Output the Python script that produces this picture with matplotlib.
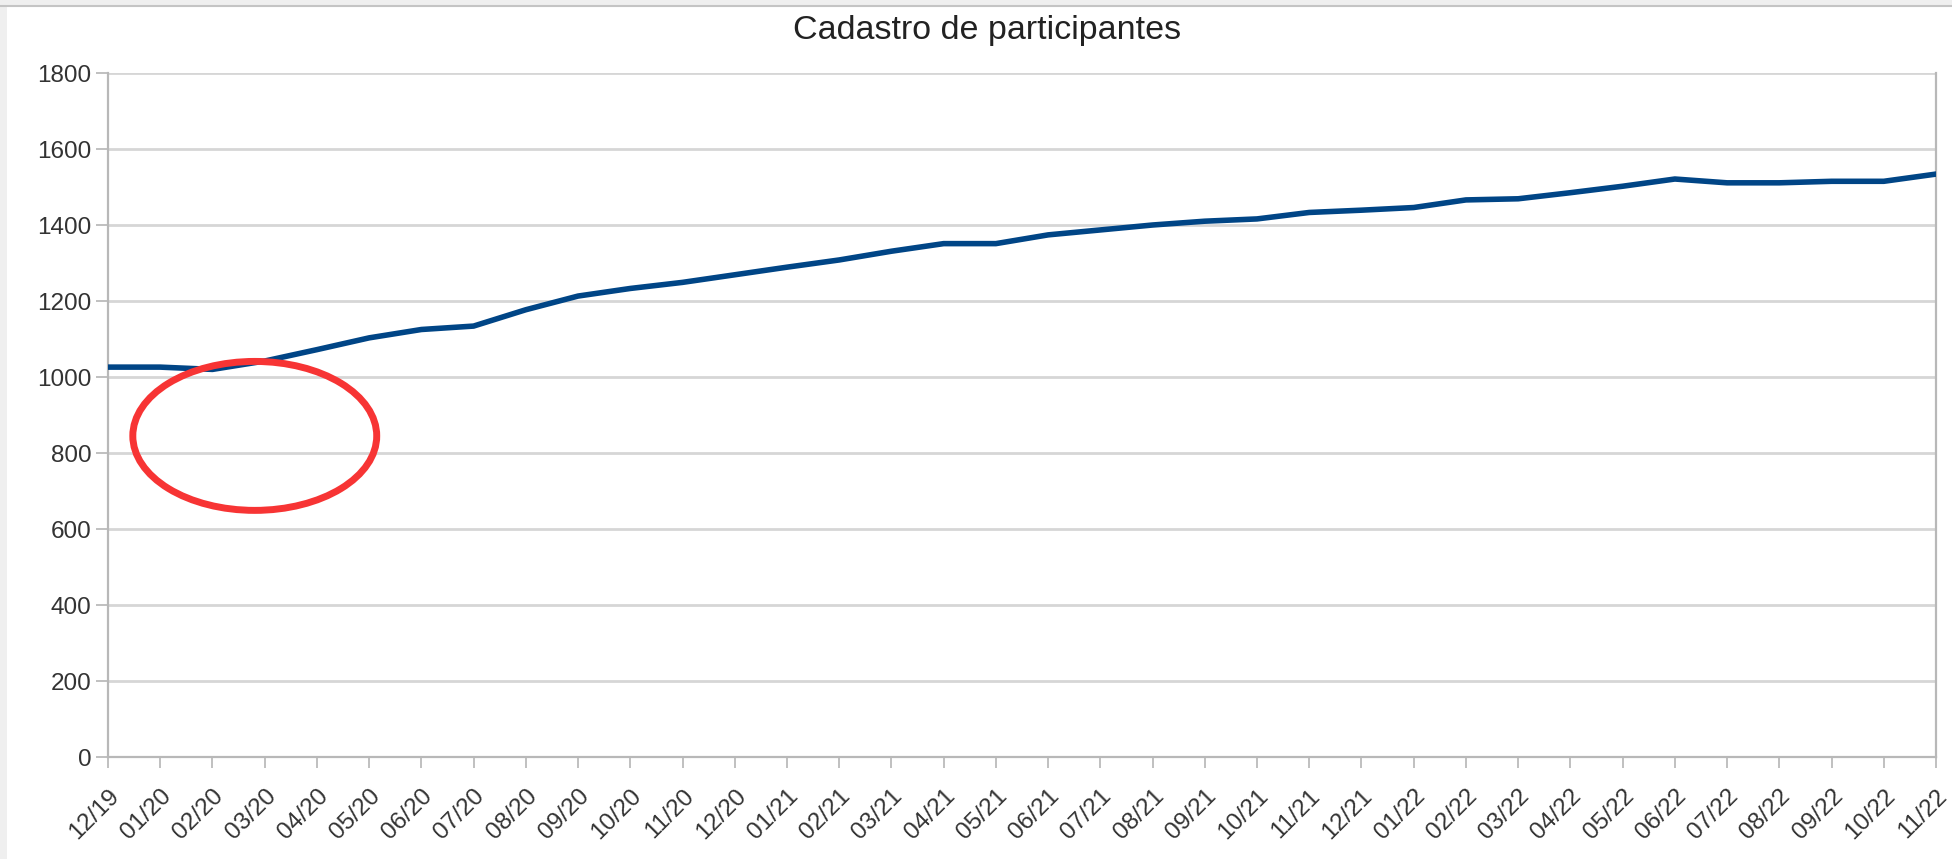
import matplotlib
matplotlib.use("Agg")
import matplotlib.pyplot as plt
from matplotlib.patches import Ellipse, Rectangle
from matplotlib.lines import Line2D

months = ["12/19", "01/20", "02/20", "03/20", "04/20", "05/20", "06/20", "07/20",
          "08/20", "09/20", "10/20", "11/20", "12/20", "01/21", "02/21", "03/21",
          "04/21", "05/21", "06/21", "07/21", "08/21", "09/21", "10/21", "11/21",
          "12/21", "01/22", "02/22", "03/22", "04/22", "05/22", "06/22", "07/22",
          "08/22", "09/22", "10/22", "11/22"]
participants = [1026, 1026, 1020, 1042, 1072, 1103, 1125, 1134,
                1177, 1213, 1233, 1249, 1269, 1289, 1308, 1331,
                1351, 1351, 1374, 1387, 1400, 1410, 1416, 1433,
                1439, 1446, 1466, 1469, 1485, 1502, 1521, 1511,
                1511, 1515, 1515, 1534]
y_ticks = [0, 200, 400, 600, 800, 1000, 1200, 1400, 1600, 1800]
title = "Cadastro de participantes"

plt.rcParams['font.family'] = ['Liberation Sans', 'DejaVu Sans']

W, H = 1952, 859
fig = plt.figure(figsize=(W / 100, H / 100), dpi=100)
fig.patch.set_facecolor('#efefef')
fig.add_artist(Rectangle((7 / W, 0), 1, 1 - 7 / H, transform=fig.transFigure,
                         facecolor='white', edgecolor='none', zorder=-10))
fig.add_artist(Line2D([0, 1], [1 - 6 / H, 1 - 6 / H], transform=fig.transFigure,
                      color='#c4c4c4', lw=1.5, zorder=-9))

ax = fig.add_axes([108 / W, 1 - 757 / H, (1936 - 108) / W, (757 - 73) / H])
ax.set_facecolor('none')
x = list(range(len(months)))
ax.plot(x, participants, color='#004586', lw=4.0, solid_joinstyle='round', zorder=3)

ax.set_xlim(0, len(months) - 1)
ax.set_ylim(0, 1800)
ax.set_yticks(y_ticks)
ax.set_yticklabels([str(v) for v in y_ticks])
ax.set_xticks(x)
ax.set_xticklabels(months, rotation=45, ha='right', rotation_mode='anchor')

ax.grid(axis='y', color='#d6d6d6', lw=2.0, zorder=1)
ax.set_axisbelow(True)
for side in ['left', 'bottom', 'right']:
    ax.spines[side].set_color('#b8b8b8')
    ax.spines[side].set_linewidth(1.6)
ax.spines['top'].set_visible(False)

ax.tick_params(axis='y', length=9, width=1.4, color='#c0c0c0', pad=3,
               labelsize=17.5, labelcolor='#333333')
ax.tick_params(axis='x', length=8, width=1.4, color='#c0c0c0', pad=12,
               labelsize=17.5, labelcolor='#333333')

fig.text(987 / W, 1 - 30 / H, title, ha='center', va='center',
         fontsize=24.5, color='#222222')

ell = Ellipse((2.81, 845), width=4.67, height=392, fill=False,
              edgecolor='#f73434', lw=5, zorder=5, clip_on=False)
ax.add_patch(ell)

fig.savefig('out.png', dpi=100, facecolor=fig.get_facecolor())
